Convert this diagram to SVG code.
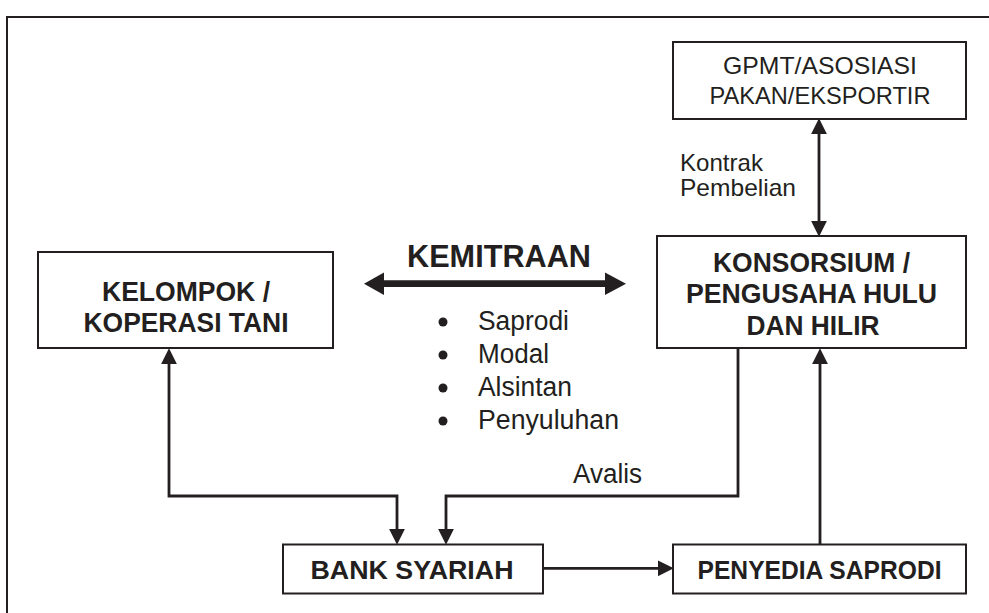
<svg xmlns="http://www.w3.org/2000/svg" width="989" height="613" viewBox="0 0 989 613">
<style>
.box{fill:#fff;stroke:#231f20;stroke-width:2}
.b{font-family:"Liberation Sans",Arial,sans-serif;font-weight:bold;fill:#231f20;text-anchor:middle}
.r{font-family:"Liberation Sans",Arial,sans-serif;fill:#231f20}
.c{fill:none;stroke:#231f20;stroke-width:2.8}
</style>
<defs>
<marker id="ah" markerUnits="userSpaceOnUse" markerWidth="16" markerHeight="16" viewBox="0 0 15 15" refX="3" refY="7.5" orient="auto-start-reverse">
<path d="M0,0 L15,7.5 L0,15 z" fill="#231f20"/>
</marker>
</defs>
<rect width="989" height="613" fill="#fff"/>
<rect x="7" y="17" width="1000" height="700" fill="none" stroke="#231f20" stroke-width="2"/>

<g id="connectors">
<line class="c" x1="819" y1="131" x2="819" y2="224" marker-start="url(#ah)" marker-end="url(#ah)"/>
<path d="M364,283.7 L384,272.5 L384,280.3 L605,280.3 L605,272.5 L626,283.7 L605,295 L605,287 L384,287 L384,295 Z" fill="#231f20"/>
<path class="c" d="M169,361 V496 H397 V532" marker-start="url(#ah)" marker-end="url(#ah)"/>
<path class="c" d="M738,349 V496 H446 V532" marker-end="url(#ah)"/>
<path class="c" d="M543,568.3 H661" marker-end="url(#ah)"/>
<path class="c" d="M820,544 V361" marker-end="url(#ah)"/>
</g>

<g id="gpmt">
<rect class="box" x="673" y="42" width="293" height="77"/>
<text class="r" x="820" y="74" font-size="24.5" text-anchor="middle" textLength="194" lengthAdjust="spacingAndGlyphs">GPMT/ASOSIASI</text>
<text class="r" x="820" y="103.5" font-size="24.5" text-anchor="middle" textLength="221" lengthAdjust="spacingAndGlyphs">PAKAN/EKSPORTIR</text>
</g>

<g id="konsorsium">
<rect class="box" x="657" y="236" width="309" height="112"/>
<text class="b" x="811.5" y="271.5" font-size="27.5" textLength="197" lengthAdjust="spacingAndGlyphs">KONSORSIUM /</text>
<text class="b" x="811.5" y="303" font-size="27.5" textLength="251" lengthAdjust="spacingAndGlyphs">PENGUSAHA HULU</text>
<text class="b" x="813" y="334.5" font-size="27.5" textLength="133" lengthAdjust="spacingAndGlyphs">DAN HILIR</text>
</g>

<g id="kelompok">
<rect class="box" x="38" y="252" width="295" height="96"/>
<text class="b" x="186" y="300.5" font-size="27.5" textLength="168" lengthAdjust="spacingAndGlyphs">KELOMPOK /</text>
<text class="b" x="186" y="331.5" font-size="27.5" textLength="205" lengthAdjust="spacingAndGlyphs">KOPERASI TANI</text>
</g>

<g id="bank">
<rect class="box" x="283" y="544.5" width="260" height="49"/>
<text class="b" x="412" y="578.5" font-size="26.5" textLength="203" lengthAdjust="spacingAndGlyphs">BANK SYARIAH</text>
</g>

<g id="penyedia">
<rect class="box" x="673" y="544.5" width="293" height="49"/>
<text class="b" x="819.5" y="578.5" font-size="26.5" textLength="244" lengthAdjust="spacingAndGlyphs">PENYEDIA SAPRODI</text>
</g>

<g id="labels">
<text class="b" x="499" y="266.5" font-size="32" textLength="184" lengthAdjust="spacingAndGlyphs">KEMITRAAN</text>
<text class="r" x="680" y="171" font-size="24" textLength="83" lengthAdjust="spacingAndGlyphs">Kontrak</text>
<text class="r" x="680" y="195.5" font-size="24" textLength="116" lengthAdjust="spacingAndGlyphs">Pembelian</text>
<text class="r" x="573" y="483" font-size="27" textLength="69" lengthAdjust="spacingAndGlyphs">Avalis</text>
<circle cx="443" cy="322" r="4.5" fill="#231f20"/>
<circle cx="443" cy="355" r="4.5" fill="#231f20"/>
<circle cx="443" cy="388" r="4.5" fill="#231f20"/>
<circle cx="443" cy="421" r="4.5" fill="#231f20"/>
<text class="r" x="478" y="330" font-size="27" textLength="91" lengthAdjust="spacingAndGlyphs">Saprodi</text>
<text class="r" x="478" y="363" font-size="27" textLength="71" lengthAdjust="spacingAndGlyphs">Modal</text>
<text class="r" x="478" y="396" font-size="27" textLength="94" lengthAdjust="spacingAndGlyphs">Alsintan</text>
<text class="r" x="478" y="429" font-size="27" textLength="141" lengthAdjust="spacingAndGlyphs">Penyuluhan</text>
</g>
</svg>
